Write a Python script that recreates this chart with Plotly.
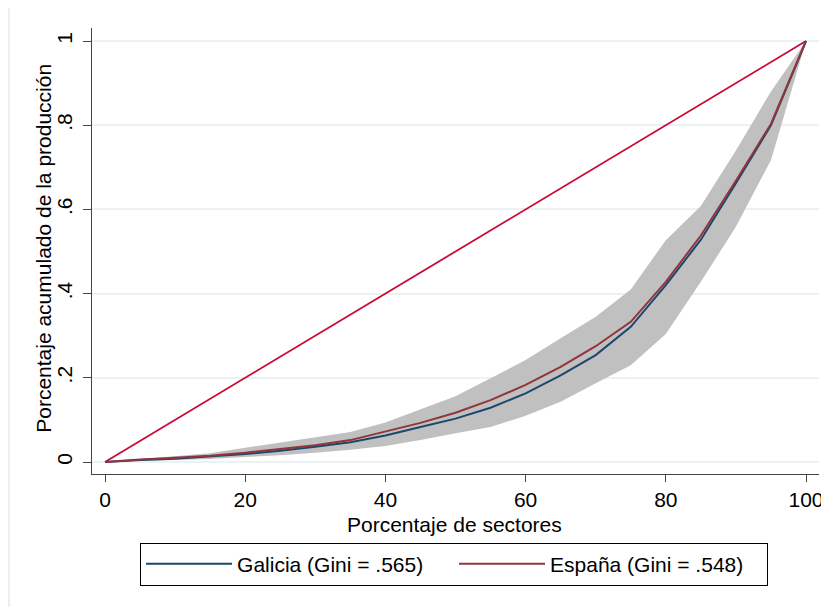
import plotly.graph_objects as go

pct_sectores = [0, 5, 10, 15, 20, 25, 30, 35, 40, 45, 50, 55, 60, 65, 70, 75, 80, 85, 90, 95, 100]
galicia = [0, .005, .008, .013, .019, .027, .036, .047, .063, .083, .103, .129, .163, .206, .254, .321, .420, .528, .662, .800, 1]
espana = [0, .006, .010, .015, .022, .031, .040, .052, .072, .093, .117, .147, .183, .226, .275, .333, .428, .538, .668, .803, 1]
banda_sup = [0, .007, .013, .021, .034, .046, .058, .071, .094, .125, .156, .199, .242, .294, .345, .410, .527, .608, .740, .880, 1]
banda_inf = [0, .002, .004, .007, .012, .016, .022, .029, .038, .052, .068, .083, .110, .143, .187, .230, .304, .428, .559, .717, 1]
igualdad_x = [0, 100]
igualdad_y = [0, 1]

y_ticks = [0, 0.2, 0.4, 0.6, 0.8, 1]
y_ticktext = ["0", ".2", ".4", ".6", ".8", "1"]
x_ticks = [0, 20, 40, 60, 80, 100]
x_title = "Porcentaje de sectores"
y_title = "Porcentaje acumulado de la producción"

FONT = "Liberation Sans, Arial, sans-serif"
FS = 21

fig = go.Figure()
fig.add_trace(go.Scatter(x=pct_sectores, y=banda_inf, mode="lines",
                         line=dict(width=0, color="#C0C0C0"), showlegend=False, hoverinfo="skip"))
fig.add_trace(go.Scatter(x=pct_sectores, y=banda_sup, mode="lines", fill="tonexty",
                         fillcolor="#C0C0C0", line=dict(width=0, color="#C0C0C0"),
                         showlegend=False, hoverinfo="skip"))
fig.add_trace(go.Scatter(x=igualdad_x, y=igualdad_y, mode="lines",
                         line=dict(color="#CC0A36", width=1.8), showlegend=False))
fig.add_trace(go.Scatter(x=pct_sectores, y=galicia, mode="lines",
                         line=dict(color="#1A476F", width=2), name="Galicia (Gini = .565)"))
fig.add_trace(go.Scatter(x=pct_sectores, y=espana, mode="lines",
                         line=dict(color="#90353B", width=2), name="España (Gini = .548)"))

fig.update_layout(
    width=821, height=599,
    margin=dict(l=84, r=10, t=20, b=133, autoexpand=False),
    paper_bgcolor="white", plot_bgcolor="white",
    font=dict(family=FONT, size=FS, color="#000000"),
    legend=dict(orientation="h", x=0.498, xanchor="center", y=-0.154, yanchor="top",
                bordercolor="#000000", borderwidth=1, font=dict(size=FS),
                itemwidth=86, entrywidth=212, traceorder="normal"),
    shapes=[dict(type="rect", xref="paper", yref="paper",
                 x0=-0.1142, x1=1.05, y0=-0.35, y1=1.0516,
                 line=dict(color="#E3EBEE", width=1.5), layer="below")],
    annotations=[
        dict(text=x_title, xref="paper", yref="paper", x=0.498, y=-0.113,
             xanchor="center", yanchor="middle", showarrow=False, font=dict(size=FS)),
        dict(text=y_title, xref="paper", yref="paper", x=-0.066, y=0.505,
             xanchor="center", yanchor="middle", textangle=-90, showarrow=False,
             font=dict(size=FS)),
    ],
)
fig.update_xaxes(range=[-1.855, 101.855], tickvals=x_ticks, ticks="outside", ticklen=7,
                 tickcolor="#444444", showline=True, linecolor="#444444", linewidth=1.2,
                 showgrid=False, zeroline=False, automargin=False,
                 tickfont=dict(size=FS))
fig.update_yaxes(range=[-0.0285, 1.0309], tickvals=y_ticks, ticktext=y_ticktext,
                 ticks="outside", ticklen=8, tickcolor="#444444", tickangle=-90,
                 ticklabelstandoff=3,
                 showline=True, linecolor="#444444", linewidth=1.2,
                 showgrid=True, gridcolor="#EAF2F3", gridwidth=1.5, zeroline=False,
                 automargin=False, tickfont=dict(size=FS))

fig.write_html("out.html")
